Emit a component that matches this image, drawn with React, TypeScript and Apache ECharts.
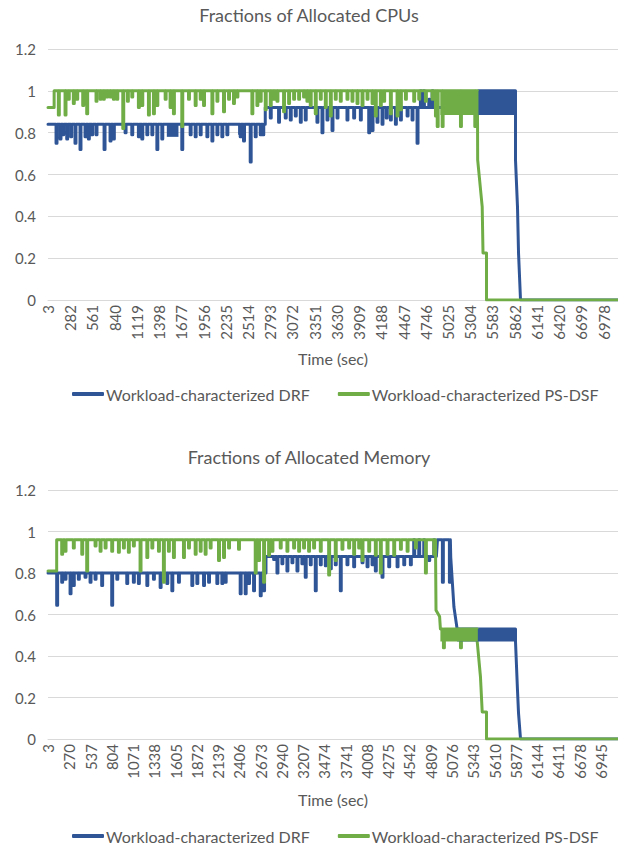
import React, { useEffect, useRef } from "react";
import * as echarts from "echarts";

const FONT = "Lato, 'Noto Sans', sans-serif";
const TEXT = "#595959";
const GRID_C = "#D9D9D9";
const BLUE = "#2F5597";
const GREEN = "#70AD47";

const cpuTitle = "Fractions of Allocated CPUs";
const memTitle = "Fractions of Allocated Memory";
const xName = "Time (sec)";
const seriesNames = ["Workload-characterized DRF", "Workload-characterized PS-DSF"];

const cpuTimeTicks = [3, 282, 561, 840, 1119, 1398, 1677, 1956, 2235, 2514, 2793, 3072, 3351, 3630, 3909, 4188, 4467, 4746, 5025, 5304, 5583, 5862, 6141, 6420, 6699, 6978];
const memTimeTicks = [3, 270, 537, 804, 1071, 1338, 1605, 1872, 2139, 2406, 2673, 2940, 3207, 3474, 3741, 4008, 4275, 4542, 4809, 5076, 5343, 5610, 5877, 6144, 6411, 6678, 6945];
const timeRange = [3, 7160];
const yRange = [0, 1.2];
const yStep = 0.2;

// ---- CPU: DRF ----
const cpuDrfPath = [[3, 0.84], [2731, 0.84], [2731, 0.92], [5408, 0.92], [5408, 1.0], [5873, 1.0], [5873, 0.885], [5873, 0.67], [5898, 0.445], [5911, 0.225], [5936, 0], [7160, 0]];
const cpuDrfDips = [[104, 0.75], [154, 0.77], [188, 0.79], [238, 0.77], [288, 0.78], [342, 0.75], [405, 0.72], [468, 0.78], [510, 0.77], [552, 0.79], [606, 0.79], [707, 0.72], [782, 0.76], [824, 0.77], [971, 0.8], [1055, 0.79], [1138, 0.78], [1181, 0.77], [1244, 0.79], [1307, 0.79], [1370, 0.72], [1432, 0.77], [1683, 0.72], [1788, 0.79], [1851, 0.78], [1914, 0.79], [1998, 0.78], [2061, 0.76], [2124, 0.79], [2186, 0.78], [2249, 0.79], [2416, 0.78], [2458, 0.76], [2542, 0.66], [2605, 0.78], [2668, 0.79], [2700, 0.79], [2794, 0.87], [2898, 0.85], [2982, 0.87], [3045, 0.86], [3108, 0.88], [3171, 0.85], [3233, 0.86], [3380, 0.85], [3443, 0.8], [3506, 0.86], [3569, 0.81], [3632, 0.87], [3757, 0.86], [3841, 0.87], [3925, 0.86], [4030, 0.8], [4072, 0.81], [4134, 0.85], [4197, 0.84], [4250, 0.87], [4302, 0.86], [4365, 0.84], [4428, 0.86], [4512, 0.88], [4574, 0.86], [4637, 0.75], [4679, 1.0], [4717, 1.0], [4784, 0.96], [4826, 1.0]];
const cpuDrfBands = [[1495, 1641, 0.78, 0.84], [2390, 2480, 0.79, 0.84], [5408, 5873, 0.885, 1.0]];

// ---- CPU: PS-DSF ----
const cpuPsPath = [[3, 0.92], [80, 0.92], [80, 1.0], [5396, 1.0], [5396, 0.885], [5398, 0.67], [5455, 0.445], [5465, 0.225], [5509, 0.225], [5509, 0], [7160, 0]];
const cpuPsDips = [[133, 0.885], [217, 0.885], [258, 0.96], [321, 0.94], [364, 0.96], [439, 0.93], [489, 0.89], [606, 0.95], [657, 0.96], [698, 0.96], [741, 0.97], [782, 0.97], [824, 0.96], [867, 0.96], [942, 0.82], [1000, 0.95], [1055, 0.97], [1138, 0.92], [1181, 0.93], [1264, 0.885], [1327, 0.89], [1370, 0.93], [1474, 0.96], [1536, 0.92], [1578, 0.89], [1683, 0.83], [1767, 0.96], [1851, 0.93], [1914, 0.96], [1956, 0.93], [2061, 0.89], [2124, 0.95], [2207, 0.9], [2270, 0.96], [2332, 0.94], [2375, 0.97], [2563, 0.89], [2626, 0.93], [2668, 0.95], [2731, 0.91], [2794, 0.93], [2835, 0.96], [2878, 0.95], [2961, 0.9], [3024, 0.94], [3087, 0.96], [3150, 0.96], [3212, 0.97], [3254, 0.95], [3296, 0.93], [3359, 0.89], [3422, 0.96], [3485, 0.92], [3548, 0.88], [3610, 0.96], [3673, 0.95], [3757, 0.96], [3820, 0.95], [3883, 0.94], [3946, 0.93], [4009, 0.96], [4072, 0.94], [4113, 0.88], [4176, 0.93], [4218, 0.95], [4302, 0.89], [4386, 0.88], [4428, 0.91], [4491, 0.96], [4595, 0.95], [4658, 0.96], [4742, 0.95], [4826, 0.96], [4868, 0.88], [4890, 0.83], [4952, 0.83], [5182, 0.83], [5362, 0.83]];
const cpuPsBands = [[4930, 5400, 0.885, 1.0]];

// ---- Memory: DRF ----
const memDrfPath = [[3, 0.8], [2740, 0.8], [2740, 0.88], [4880, 0.88], [4893, 0.96], [5060, 0.96], [5060, 0.876], [5100, 0.636], [5140, 0.53], [5873, 0.53], [5873, 0.47], [5898, 0.235], [5911, 0.125], [5936, 0], [7160, 0]];
const memDrfDips = [[112, 0.645], [175, 0.755], [217, 0.77], [280, 0.7], [321, 0.74], [384, 0.77], [468, 0.78], [531, 0.755], [594, 0.77], [677, 0.74], [803, 0.645], [867, 0.77], [992, 0.75], [1075, 0.755], [1138, 0.75], [1244, 0.74], [1327, 0.77], [1411, 0.73], [1495, 0.75], [1558, 0.715], [1641, 0.755], [1809, 0.74], [1872, 0.75], [1956, 0.74], [2019, 0.755], [2123, 0.75], [2186, 0.75], [2228, 0.755], [2416, 0.7], [2479, 0.7], [2521, 0.75], [2584, 0.715], [2668, 0.69], [2710, 0.715], [2836, 0.865], [2878, 0.8], [2940, 0.845], [3003, 0.81], [3066, 0.85], [3129, 0.81], [3191, 0.845], [3233, 0.78], [3296, 0.84], [3359, 0.715], [3422, 0.84], [3485, 0.835], [3548, 0.82], [3610, 0.84], [3673, 0.715], [3757, 0.84], [3841, 0.83], [3946, 0.85], [4009, 0.83], [4072, 0.84], [4113, 0.81], [4197, 0.78], [4281, 0.83], [4386, 0.83], [4470, 0.84], [4553, 0.84], [4595, 0.96], [4658, 0.96], [4721, 0.96], [4784, 0.86], [4847, 0.96], [4955, 0.756], [5043, 0.756]];
const memDrfBands = [[5140, 5873, 0.47, 0.53]];

// ---- Memory: PS-DSF ----
const memPsPath = [[3, 0.81], [112, 0.81], [112, 0.96], [4868, 0.96], [4875, 0.62], [4920, 0.59], [4930, 0.53], [5392, 0.53], [5392, 0.47], [5433, 0.3], [5455, 0.13], [5509, 0.13], [5509, 0], [7160, 0]];
const memPsDips = [[175, 0.89], [217, 0.905], [321, 0.92], [427, 0.89], [489, 0.81], [594, 0.93], [657, 0.905], [720, 0.92], [803, 0.905], [887, 0.9], [950, 0.92], [1012, 0.9], [1075, 0.93], [1159, 0.81], [1244, 0.875], [1307, 0.92], [1390, 0.905], [1452, 0.755], [1515, 0.905], [1578, 0.875], [1704, 0.875], [1767, 0.92], [1851, 0.89], [1914, 0.905], [1976, 0.89], [2039, 0.92], [2144, 0.86], [2207, 0.875], [2270, 0.92], [2395, 0.915], [2605, 0.8], [2647, 0.86], [2710, 0.755], [2773, 0.885], [2815, 0.905], [2919, 0.92], [3003, 0.905], [3087, 0.92], [3150, 0.905], [3212, 0.92], [3275, 0.905], [3338, 0.92], [3422, 0.905], [3527, 0.79], [3610, 0.86], [3694, 0.915], [3778, 0.92], [3841, 0.89], [3904, 0.92], [3946, 0.86], [4030, 0.905], [4113, 0.885], [4176, 0.8], [4260, 0.89], [4344, 0.885], [4428, 0.915], [4512, 0.905], [4616, 0.92], [4742, 0.8], [4847, 0.89], [4968, 0.44], [5182, 0.44]];
const memPsBands = [[4930, 5400, 0.47, 0.53]];

function buildLine(path: number[][], dips: number[][], w = 12) {
  const ds = [...dips].sort((a, b) => a[0] - b[0]);
  const out: number[][] = [];
  for (let i = 0; i < path.length; i++) {
    const [t0, v0] = path[i];
    out.push([t0, v0]);
    if (i === path.length - 1) break;
    const [t1, v1] = path[i + 1];
    if (t1 <= t0) continue;
    for (const [t, v] of ds) {
      if (t > t0 && t + w < t1) {
        const b0 = v0 + ((v1 - v0) * (t - t0)) / (t1 - t0);
        const b1 = v0 + ((v1 - v0) * (t + w - t0)) / (t1 - t0);
        out.push([t, b0], [t, v], [t + w, v], [t + w, b1]);
      }
    }
  }
  return out;
}

function makeSeries(name: string, idx: number, color: string, path: number[][], dips: number[][], bands: number[][]) {
  return {
    type: "line",
    name,
    xAxisIndex: idx,
    yAxisIndex: idx,
    data: buildLine(path, dips),
    showSymbol: false,
    symbol: "none",
    color,
    itemStyle: { color },
    lineStyle: { color, width: 3, join: "round", cap: "round" },
    markArea: {
      silent: true,
      z: 4,
      label: { show: false },
      itemStyle: { color, opacity: 1 },
      data: bands.map(([a, b, lo, hi]) => [
        { xAxis: a, yAxis: lo },
        { xAxis: b, yAxis: hi },
      ]),
    },
  };
}

function xAxisCfg(idx: number, ticks: number[], gap: number) {
  return {
    type: "value",
    gridIndex: idx,
    min: timeRange[0],
    max: timeRange[1],
    axisLine: { show: true, lineStyle: { color: GRID_C, width: 1 } },
    axisTick: { show: false },
    splitLine: { show: false },
    axisLabel: {
      customValues: ticks,
      rotate: 90,
      margin: 5,
      color: TEXT,
      fontFamily: FONT,
      fontSize: 15,
      formatter: (v: number) => String(v),
    },
    name: xName,
    nameLocation: "middle",
    nameGap: gap,
    nameTextStyle: { color: TEXT, fontFamily: FONT, fontSize: 16 },
  };
}

function yAxisCfg(idx: number) {
  return {
    type: "value",
    gridIndex: idx,
    min: yRange[0],
    max: yRange[1],
    interval: yStep,
    axisLine: { show: false },
    axisTick: { show: false },
    splitLine: { lineStyle: { color: GRID_C, width: 1 } },
    axisLabel: {
      color: TEXT,
      fontFamily: FONT,
      fontSize: 15,
      margin: 12,
      formatter: (v: number) => String(Math.round(v * 10) / 10),
    },
  };
}

function legendCfg(top: number) {
  return {
    data: seriesNames,
    top,
    left: 67,
    icon: "roundRect",
    itemWidth: 32,
    itemHeight: 4,
    itemGap: 28,
    textStyle: { color: TEXT, fontFamily: FONT, fontSize: 16, padding: [0, 0, 0, -3] },
  };
}

export default function App() {
  const ref = useRef<HTMLDivElement>(null);
  useEffect(() => {
    if (!ref.current) return;
    const chart = echarts.init(ref.current, undefined, { renderer: "svg" });
    chart.setOption({
      animation: false,
      backgroundColor: "#ffffff",
      color: [BLUE, GREEN],
      title: [
        { text: cpuTitle, left: "center", top: 3, padding: [3, 0, 3, 20], textStyle: { color: TEXT, fontFamily: FONT, fontSize: 18, fontWeight: "normal" } },
        { text: memTitle, left: "center", top: 445, padding: [3, 0, 3, 20], textStyle: { color: TEXT, fontFamily: FONT, fontSize: 18, fontWeight: "normal" } },
      ],
      legend: [legendCfg(381), legendCfg(823)],
      grid: [
        { left: 48, right: 0, top: 49, height: 251 },
        { left: 48, right: 0, top: 490, height: 249 },
      ],
      xAxis: [xAxisCfg(0, cpuTimeTicks, 50), xAxisCfg(1, memTimeTicks, 52)],
      yAxis: [yAxisCfg(0), yAxisCfg(1)],
      series: [
        makeSeries(seriesNames[0], 0, BLUE, cpuDrfPath, cpuDrfDips, cpuDrfBands),
        makeSeries(seriesNames[1], 0, GREEN, cpuPsPath, cpuPsDips, cpuPsBands),
        makeSeries(seriesNames[0], 1, BLUE, memDrfPath, memDrfDips, memDrfBands),
        makeSeries(seriesNames[1], 1, GREEN, memPsPath, memPsDips, memPsBands),
      ],
    });
    return () => chart.dispose();
  }, []);
  return <div ref={ref} style={{ position: "absolute", left: 0, top: 0, width: 618, height: 844 }} />;
}
